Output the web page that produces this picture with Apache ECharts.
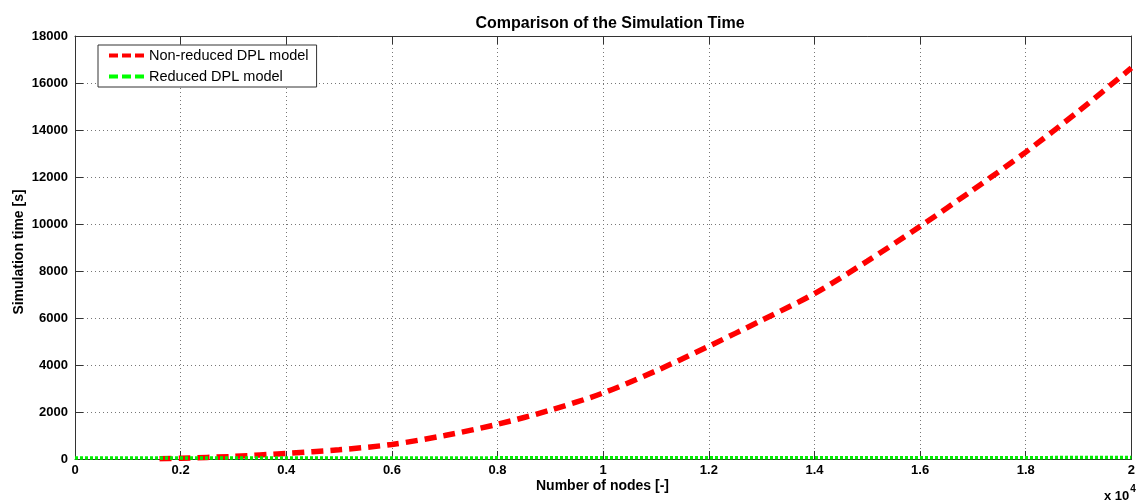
<!DOCTYPE html>
<html>
<head>
<meta charset="utf-8">
<script src="https://cdn.jsdelivr.net/npm/echarts@6/dist/echarts.min.js"></script>
<style>
html,body{margin:0;padding:0;background:#fff;}
#chart{width:1138px;height:500px;}
</style>
</head>
<body>
<div id="chart"></div>
<script>
var titleText = 'Comparison of the Simulation Time';
var xAxisTitle = 'Number of nodes [-]';
var yAxisTitle = 'Simulation time [s]';
var seriesNames = ['Non-reduced DPL model', 'Reduced DPL model'];

// nodes (actual node counts)
var nonReducedNodes = [1600, 2000, 3000, 4000, 5000, 6000, 7000, 8000, 9000, 10000, 11000, 12000, 13000, 14000, 15000, 16000, 17000, 18000, 19000, 20000];
var nonReducedTime  = [10, 30, 110, 240, 390, 620, 1000, 1480, 2080, 2810, 3750, 4800, 5900, 7040, 8420, 9900, 11450, 13060, 14800, 16640];

var reducedNodes = [0, 2000, 4000, 6000, 8000, 10000, 12000, 14000, 16000, 18000, 20000];
var reducedTime  = [40, 42, 44, 46, 48, 50, 52, 54, 56, 58, 60];

var xTickValues = [0, 2000, 4000, 6000, 8000, 10000, 12000, 14000, 16000, 18000, 20000];
var yTickValues = [0, 2000, 4000, 6000, 8000, 10000, 12000, 14000, 16000, 18000];

function pairs(xs, ys){ return xs.map(function(x,i){ return [x, ys[i]]; }); }

var chart = echarts.init(document.getElementById('chart'));
var FONT = '"Liberation Sans", Arial, sans-serif';
var axisColor = '#333';
var xMin = xTickValues[0], xMax = xTickValues[xTickValues.length-1], xInt = xTickValues[1]-xTickValues[0];
var yMin = yTickValues[0], yMax = yTickValues[yTickValues.length-1], yInt = yTickValues[1]-yTickValues[0];
var hidden = { color: 'rgba(0,0,0,0)', borderColor: 'rgba(0,0,0,0)', borderWidth: 0 };

var option = {
  backgroundColor: '#fff',
  animation: false,
  title: {
    text: titleText,
    left: 605, top: 11, textAlign: 'center',
    textStyle: { fontFamily: FONT, fontSize: 16, fontWeight: 'bold', color: '#000' }
  },
  grid: { left: 75, right: 2, top: 36, bottom: 41, containLabel: false },
  legend: {
    orient: 'vertical', left: 98, top: 45,
    padding: [3, 8, 3, 9], itemGap: 6,
    itemWidth: 35, itemHeight: 14,
    backgroundColor: '#fff', borderColor: '#333', borderWidth: 1, borderRadius: 0,
    textStyle: { fontFamily: FONT, fontSize: 14.5, color: '#000' },
    data: [
      { name: seriesNames[0], itemStyle: hidden, lineStyle: { color: '#ff0000', width: 4, type: [9, 4] } },
      { name: seriesNames[1], itemStyle: hidden, lineStyle: { color: '#00ff00', width: 4, type: [9, 4] } }
    ]
  },
  xAxis: [{
    type: 'value', min: xMin, max: xMax, interval: xInt,
    axisLine: { show: true, onZero: false, lineStyle: { color: axisColor, width: 1 } },
    axisTick: { show: true, inside: true, length: 8, lineStyle: { color: axisColor } },
    axisLabel: { margin: 5, fontFamily: FONT, fontSize: 13, fontWeight: 'bold', color: '#000',
      formatter: function(v){ return String(parseFloat((v/10000).toFixed(1))); } },
    splitLine: { show: true, lineStyle: { color: '#777', type: [1, 3], width: 1 } }
  }, {
    type: 'value', position: 'top', min: xMin, max: xMax, interval: xInt,
    axisLine: { show: true, onZero: false, lineStyle: { color: axisColor, width: 1 } },
    axisTick: { show: true, inside: true, length: 8, lineStyle: { color: axisColor } },
    axisLabel: { show: false }, splitLine: { show: false }
  }],
  yAxis: [{
    type: 'value', min: yMin, max: yMax, interval: yInt,
    axisLine: { show: true, onZero: false, lineStyle: { color: axisColor, width: 1 } },
    axisTick: { show: true, inside: true, length: 8, lineStyle: { color: axisColor } },
    axisLabel: { margin: 7, fontFamily: FONT, fontSize: 13, fontWeight: 'bold', color: '#000',
      formatter: function(v){ return String(v); } },
    splitLine: { show: true, lineStyle: { color: '#777', type: [1, 3], width: 1 } }
  }, {
    type: 'value', position: 'right', min: yMin, max: yMax, interval: yInt,
    axisLine: { show: true, onZero: false, lineStyle: { color: axisColor, width: 1 } },
    axisTick: { show: true, inside: true, length: 8, lineStyle: { color: axisColor } },
    axisLabel: { show: false }, splitLine: { show: false }
  }],
  series: [{
    name: seriesNames[0], type: 'line', smooth: 0.3, showSymbol: false, symbol: 'none',
    data: pairs(nonReducedNodes, nonReducedTime),
    lineStyle: { color: '#ff0000', width: 5.5, type: [12, 7] },
    itemStyle: { color: '#ff0000' }, z: 3
  }, {
    name: seriesNames[1], type: 'line', showSymbol: false, symbol: 'none',
    data: pairs(reducedNodes, reducedTime),
    lineStyle: { color: '#00ee00', width: 3.5, type: [3, 2] },
    itemStyle: { color: '#00ff00' }, z: 4
  }],
  graphic: [
    { type: 'text', left: 536, top: 479,
      style: { text: xAxisTitle, fontFamily: FONT, fontSize: 14, fontWeight: 'bold', fill: '#000' } },
    { type: 'text', x: 19, y: 252, rotation: Math.PI/2,
      style: { text: yAxisTitle, fontFamily: FONT, fontSize: 14, fontWeight: 'bold', fill: '#000',
               align: 'center', verticalAlign: 'middle' } },
    { type: 'text', left: 1104, top: 484,
      style: { text: '{a|x 10}{b|4}', fontFamily: FONT, fill: '#000',
        rich: { a: { fontSize: 13, fontWeight: 'bold', fontFamily: FONT, padding: [6,0,0,0] },
                b: { fontSize: 10, fontWeight: 'bold', fontFamily: FONT, verticalAlign: 'top', padding: [0,0,8,1] } } } }
  ]
};
chart.setOption(option);
</script>
</body>
</html>
